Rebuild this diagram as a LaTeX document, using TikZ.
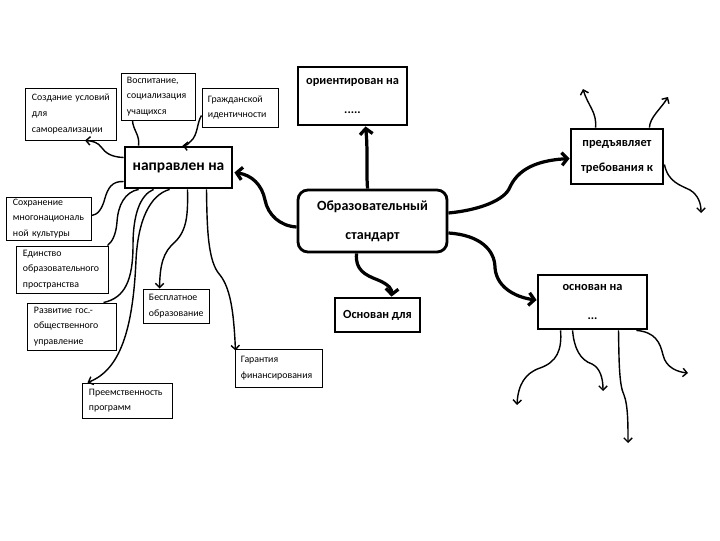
\documentclass[tikz,border=0pt]{standalone}
\usepackage{fontspec}
\setmainfont{Carlito}
\usetikzlibrary{arrows.meta, calc}

\begin{document}
\begin{tikzpicture}[
  x=0.025cm, y=-0.025cm,
  smallbox/.style={draw, line width=0.7pt, align=left, inner xsep=0.15cm, inner ysep=0pt,
                   font=\fontsize{7}{11.2}\selectfont},
  bigbox/.style={draw, line width=2pt, align=center, inner sep=0pt,
                 font=\bfseries\fontsize{8.8}{20}\selectfont},
  mainlink/.style={line width=2.3pt, -{Straight Barb[length=4pt,width=9pt]}},
  sublink/.style={line width=1pt, -{Straight Barb[length=3pt,width=6pt]}},
  plainlink/.style={line width=1pt}
]
  \useasboundingbox (0,0) rectangle (720,540);

  \node[bigbox, rounded corners=0.25cm, minimum width=3.725cm, minimum height=1.55cm,
        font=\bfseries\fontsize{10}{20.5}\selectfont] (obr) at (372.5,221)
        {Образовательный\\стандарт};
  \node[bigbox, minimum width=2.675cm, minimum height=1.025cm,
        font=\bfseries\fontsize{11}{12}\selectfont] (napr) at (178.5,167.5) {направлен на};
  \node[bigbox, minimum width=2.725cm, minimum height=1.45cm] (orient) at (352.5,96)
        {ориентирован на\\.....};
  \node[bigbox, minimum width=2.125cm, minimum height=0.85cm] (osndl) at (377.5,315) {Основан для};
  \node[bigbox, minimum width=2.3cm, minimum height=1.375cm,
        font=\bfseries\fontsize{8.8}{17.7}\selectfont] (predj) at (617,156.5)
        {предъявляет\\требования к};
  \node[bigbox, minimum width=2.725cm, minimum height=1.35cm] (osnna) at (592.5,302)
        {основан на\\...};

  \node[smallbox, text width=1.95cm, minimum height=1.3cm] (sozd) at (71,114)
        {Создание условий\\для\\самореализации};
  \node[smallbox, text width=1.55cm, minimum height=1.175cm] (vosp) at (158,96.5)
        {Воспитание,\\социализация\\учащихся};
  \node[smallbox, text width=1.6cm, minimum height=0.975cm] (grazhd) at (240,107.5)
        {Гражданской\\идентичности};
  \node[smallbox, text width=1.8cm, minimum height=1.075cm] (sohr) at (49,218.5)
        {Сохранение\\многонациональ\\ной культуры};
  \node[smallbox, text width=1.975cm, minimum height=1.175cm] (edin) at (62.5,269.5)
        {Единство\\образовательного\\пространства};
  \node[smallbox, text width=1.9cm, minimum height=1.175cm] (razv) at (72,326.5)
        {Развитие гос.-\\общественного\\управление};
  \node[smallbox, text width=1.925cm, minimum height=0.875cm] (preem) at (127.5,400.5)
        {Преемственность\\программ};
  \node[smallbox, text width=1.35cm, minimum height=0.85cm] (besp) at (176,306)
        {Бесплатное\\образование};
  \node[smallbox, text width=1.875cm, minimum height=0.95cm] (garant) at (278.5,368)
        {Гарантия\\финансирования};

  \coordinate (p1) at (583,89);
  \coordinate (p2) at (668,97);
  \coordinate (p3) at (701,213);
  \coordinate (q1) at (517,405);
  \coordinate (q2) at (603,391);
  \coordinate (q3) at (628,443);
  \coordinate (q4) at (688,373);

  \draw[mainlink] ($(obr.west)+(0,6)$) .. controls (280,226) and (268,215) .. (265,200)
        .. controls (262,185) and (252,175) .. ($(napr.east)+(1,5)$);
  \draw[mainlink] ($(obr.north)+(-5,0)$) .. controls (366,165) and (368,150) .. ($(orient.south)+(13,0)$);
  \draw[mainlink] ($(obr.south)+(-16,0)$) .. controls (355,270) and (365,275) .. (378,280)
        .. controls (390,285) and (392,290) .. ($(osndl.north)+(14,0)$);
  \draw[mainlink] ($(obr.east)+(0,-8)$) .. controls (480,210) and (505,200) .. (510,187)
        .. controls (520,165) and (545,160) .. ($(predj.west)+(0,2)$);
  \draw[mainlink] ($(obr.east)+(0,12)$) .. controls (480,235) and (495,250) .. (495,268)
        .. controls (497,290) and (520,298) .. ($(osnna.west)+(0,-2)$);

  \draw[sublink] ($(napr.west)+(0,-10)$) .. controls (110,157) and (105,152) .. (102,148)
        .. controls (98,142) and (92,141) .. ($(sozd.south)+(14,0)$);
  \draw[plainlink] ($(napr.north west)+(15,0)$) .. controls (140,135) and (133,130) .. ($(vosp.south west)+(12,0)$);
  \draw[sublink] ($(grazhd.west)+(0,8)$) .. controls (197,122) and (198,135) .. (191,141)
        .. controls (188,144) and (186,146) .. ($(napr.north)+(4,0)$);
  \draw[plainlink] ($(napr.west)+(0,14)$) .. controls (112,181) and (108,188) .. (105,198)
        .. controls (102,210) and (97,215) .. ($(sohr.east)+(0,-3)$);
  \draw[plainlink] ($(napr.south west)+(15,0)$) .. controls (125,192) and (118,205) .. (117,222)
        .. controls (116,235) and (112,242) .. ($(edin.north east)+(-1,0)$);
  \draw[plainlink] ($(napr.south west)+(30,0)$) .. controls (140,195) and (133,215) .. (133,245)
        .. controls (133,280) and (125,298) .. ($(razv.north east)+(-13,0)$);
  \draw[sublink] ($(napr.south west)+(46,0)$) .. controls (150,195) and (138,220) .. (136,260)
        .. controls (133,330) and (120,370) .. ($(preem.north west)+(5,0)$);
  \draw[sublink] ($(napr.south)+(9,0)$) .. controls (188,215) and (187,230) .. (175,242)
        .. controls (163,252) and (160,265) .. ($(besp.north west)+(17,0)$);
  \draw[sublink] ($(napr.south)+(28,0)$) .. controls (207,230) and (208,262) .. (220,275)
        .. controls (232,290) and (234,320) .. ($(garant.north west)+(1,2)$);

  \draw[sublink] ($(predj.north west)+(26,0)$) .. controls (597,112) and (588,106) .. (p1);
  \draw[sublink] ($(predj.north east)+(-15,0)$) .. controls (650,117) and (660,110) .. (p2);
  \draw[sublink] ($(predj.east)+(0,8)$) .. controls (668,182) and (680,185) .. (690,190)
        .. controls (698,195) and (701,203) .. (p3);
  \draw[sublink] ($(osnna.south west)+(24,0)$) .. controls (562,350) and (557,362) .. (540,368)
        .. controls (525,373) and (518,385) .. (q1);
  \draw[sublink] ($(osnna.south west)+(36,0)$) .. controls (574,348) and (580,360) .. (592,364)
        .. controls (600,368) and (603,378) .. (q2);
  \draw[sublink] ($(osnna.south)+(26,0)$) .. controls (619,360) and (619,385) .. (624,395)
        .. controls (628,405) and (628,425) .. (q3);
  \draw[sublink] ($(osnna.south east)+(-12,0)$) .. controls (655,332) and (660,342) .. (663,355)
        .. controls (666,368) and (678,372) .. (q4);

\end{tikzpicture}
\end{document}
